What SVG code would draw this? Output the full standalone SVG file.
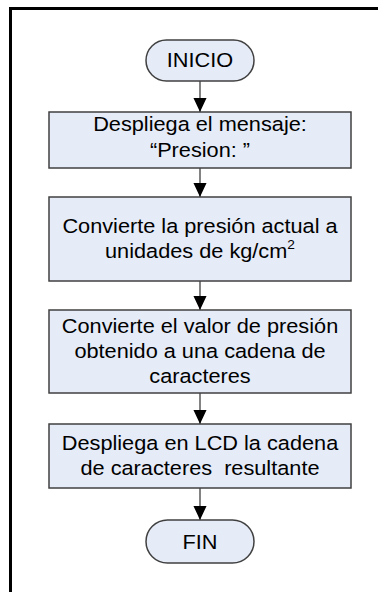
<svg xmlns="http://www.w3.org/2000/svg" width="378" height="592" viewBox="0 0 378 592">
<style>
.box{fill:#e5ebf7;stroke:#404040;stroke-width:1.5}
.t{font-family:"Liberation Sans",Arial,sans-serif;font-size:20.5px;fill:#000;text-anchor:middle}
.c{stroke:#404040;stroke-width:1.3;fill:none}
</style>
<defs>
<marker id="ah" markerUnits="userSpaceOnUse" markerWidth="14" markerHeight="15" refX="15" refY="7" orient="auto" viewBox="0 0 15 14">
<path d="M0,0 L15,7 L0,14 Z" fill="#000"/>
</marker>
</defs>
<rect x="10.5" y="8.5" width="400" height="620" fill="none" stroke="#000" stroke-width="3"/>
<g id="connectors">
<line class="c" x1="200" y1="81" x2="200" y2="112" marker-end="url(#ah)"/>
<line class="c" x1="200" y1="168" x2="200" y2="197" marker-end="url(#ah)"/>
<line class="c" x1="200" y1="281" x2="200" y2="310" marker-end="url(#ah)"/>
<line class="c" x1="200" y1="393" x2="200" y2="424" marker-end="url(#ah)"/>
<line class="c" x1="200" y1="488" x2="200" y2="520" marker-end="url(#ah)"/>
</g>
<g id="inicio">
<rect class="box" x="146" y="40" width="108" height="41" rx="20.5"/>
<g transform="matrix(1.06 0 0 1 -12 0)"><text class="t" x="200" y="67">INICIO</text></g>
</g>
<g id="mensaje">
<rect class="box" x="49" y="112" width="302" height="56"/>
<g transform="matrix(1.06 0 0 1 -12 0)">
<text class="t" x="200" y="131">Despliega el mensaje:</text>
<text class="t" x="200" y="157">“Presion: ”</text>
</g>
</g>
<g id="convierte">
<rect class="box" x="49" y="197" width="302" height="84"/>
<g transform="matrix(1.06 0 0 1 -12 0)">
<text class="t" x="200" y="233">Convierte la presión actual a</text>
<text class="t" x="200" y="258">unidades de kg/cm<tspan font-size="13" dy="-9">2</tspan></text>
</g>
</g>
<g id="cadena">
<rect class="box" x="49" y="310" width="302" height="83"/>
<g transform="matrix(1.06 0 0 1 -12 0)">
<text class="t" x="200" y="333">Convierte el valor de presión</text>
<text class="t" x="200" y="358">obtenido a una cadena de</text>
<text class="t" x="200" y="383">caracteres</text>
</g>
</g>
<g id="lcd">
<rect class="box" x="49" y="424" width="302" height="64"/>
<g transform="matrix(1.06 0 0 1 -12 0)">
<text class="t" x="200" y="450">Despliega en LCD la cadena</text>
<text class="t" x="200" y="475" xml:space="preserve">de caracteres  resultante</text>
</g>
</g>
<g id="fin">
<rect class="box" x="146" y="520" width="108" height="43" rx="21.5"/>
<g transform="matrix(1.06 0 0 1 -12 0)"><text class="t" x="200" y="549">FIN</text></g>
</g>
</svg>
